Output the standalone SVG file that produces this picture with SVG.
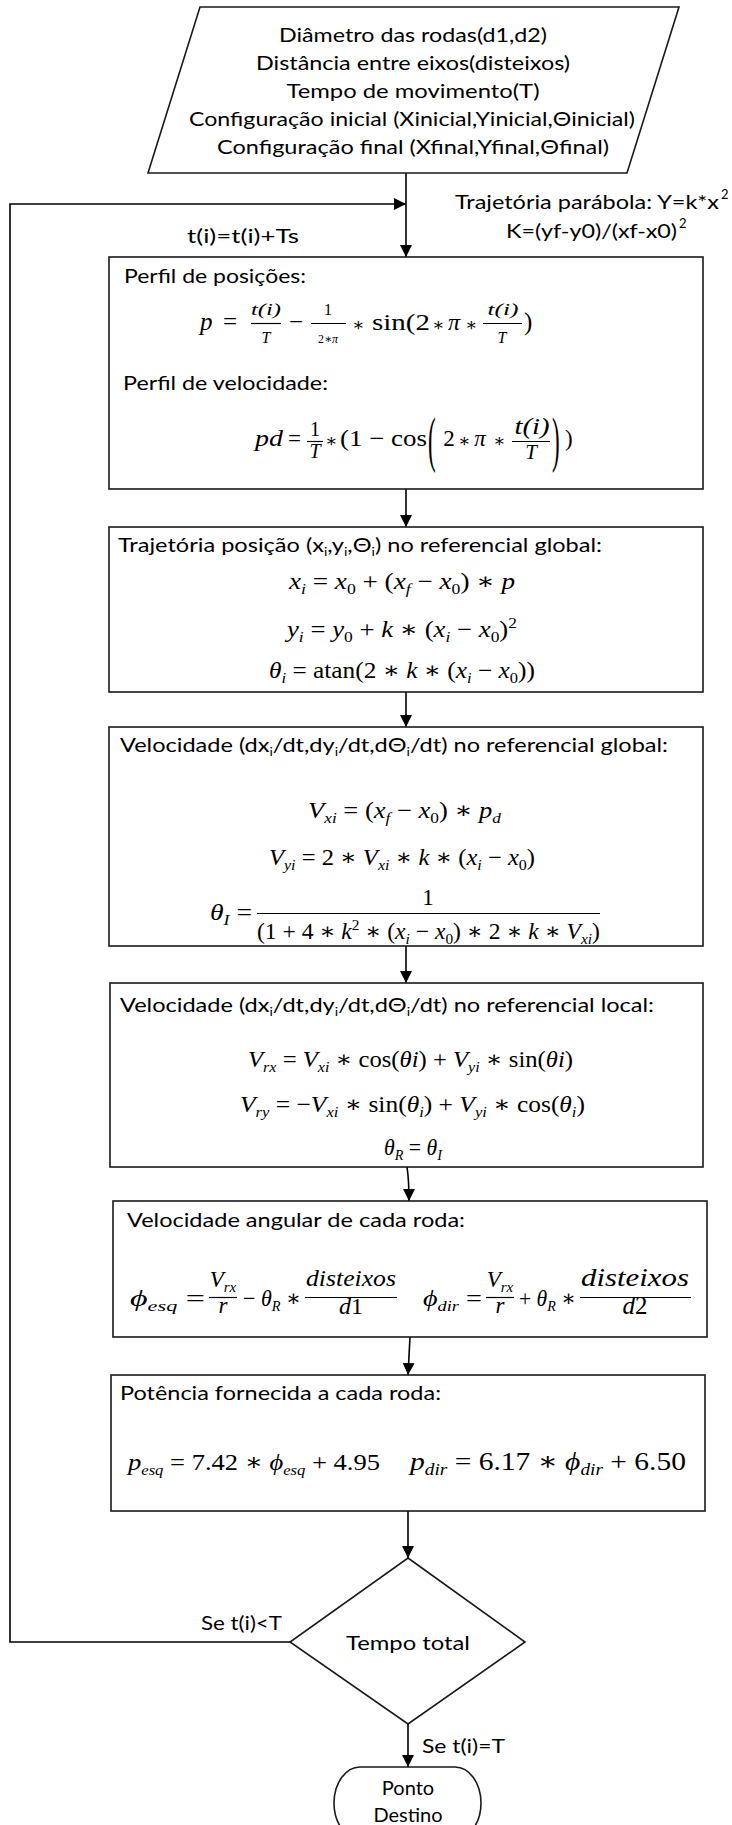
<svg xmlns="http://www.w3.org/2000/svg" width="732" height="1825" viewBox="0 0 732 1825">
<style>
.tx{font-family:Lato,"Liberation Sans",sans-serif;font-size:20px;fill:#000}
.m{font-family:"Liberation Serif","DejaVu Serif",serif;font-size:23px;fill:#000}
.mi{font-style:italic}
.ms{font-size:15px}
.mf{font-size:16px}
.mss{font-size:12px}
.ast{font-size:18px;text-anchor:middle}
.c{text-anchor:middle}
.box{fill:#fff;stroke:#1a1a1a;stroke-width:1.6}
.ln{fill:none;stroke:#000;stroke-width:1.6}
.fb{stroke:#000;stroke-width:1.2}
</style>
<defs>
<marker id="ah" viewBox="0 0 12 12" refX="12" refY="6" markerWidth="12" markerHeight="12" markerUnits="userSpaceOnUse" orient="auto"><path d="M0,0 L12,6 L0,12 z" fill="#000"/></marker>
</defs>

<g id="connectors">
<path class="ln" d="M406 173 V257" marker-end="url(#ah)"/>
<path class="ln" d="M290 1642 H10 V204 H406" marker-end="url(#ah)"/>
<path class="ln" d="M406 489 V527" marker-end="url(#ah)"/>
<path class="ln" d="M406 692 V727" marker-end="url(#ah)"/>
<path class="ln" d="M406 946 V983" marker-end="url(#ah)"/>
<path class="ln" d="M407 1167 Q409 1180 409 1201" marker-end="url(#ah)"/>
<path class="ln" d="M410 1337 L408 1375" marker-end="url(#ah)"/>
<path class="ln" d="M408 1511 V1558" marker-end="url(#ah)"/>
<path class="ln" d="M408 1724 V1767" marker-end="url(#ah)"/>
<text class="tx" x="455" y="209" textLength="264" lengthAdjust="spacingAndGlyphs">Trajetória parábola: Y=k*x</text>
<text class="tx" x="721" y="199" style="font-size:13px">2</text>
<text class="tx" x="506" y="238" textLength="171" lengthAdjust="spacingAndGlyphs">K=(yf-y0)/(xf-x0)</text>
<text class="tx" x="679" y="228" style="font-size:13px">2</text>
<text class="tx" x="187" y="243" textLength="112" lengthAdjust="spacingAndGlyphs">t(i)=t(i)+Ts</text>
<text class="tx" x="201" y="1630" textLength="81" lengthAdjust="spacingAndGlyphs">Se t(i)&lt;T</text>
<text class="tx" x="422" y="1753" textLength="83" lengthAdjust="spacingAndGlyphs">Se t(i)=T</text>
</g>

<g id="input">
<polygon class="box" points="200,7 679,7 627,173 148,173"/>
<text class="tx c" x="413" y="42" textLength="268" lengthAdjust="spacingAndGlyphs">Diâmetro das rodas(d1,d2)</text>
<text class="tx c" x="413" y="70" textLength="314" lengthAdjust="spacingAndGlyphs">Distância entre eixos(disteixos)</text>
<text class="tx c" x="413" y="98" textLength="253" lengthAdjust="spacingAndGlyphs">Tempo de movimento(T)</text>
<text class="tx c" x="412" y="126" textLength="446" lengthAdjust="spacingAndGlyphs">Configuração inicial (Xinicial,Yinicial,Θinicial)</text>
<text class="tx c" x="413" y="154" textLength="392" lengthAdjust="spacingAndGlyphs">Configuração final (Xfinal,Yfinal,Θfinal)</text>
</g>

<g id="perfil">
<rect class="box" x="109" y="257" width="594" height="232"/>
<text class="tx" x="124" y="283" textLength="182" lengthAdjust="spacingAndGlyphs">Perfil de posições:</text>
<text class="m mi" x="200" y="330" style="font-size:25px">p</text>
<text class="m" x="223" y="330" style="font-size:25px">=</text>
<text class="m mi mf c" x="266" y="315" textLength="30" lengthAdjust="spacingAndGlyphs">t(i)</text>
<line class="fb" x1="251" y1="323.5" x2="281" y2="323.5"/>
<text class="m mi mf c" x="266" y="343">T</text>
<text class="m" x="289" y="330" style="font-size:25px">−</text>
<text class="m mf c" x="328" y="315">1</text>
<line class="fb" x1="311" y1="323.5" x2="346" y2="323.5"/>
<text class="m mss c" x="328" y="343">2∗<tspan class="mi">π</tspan></text>
<text class="m ast" x="358" y="331">∗</text>
<text class="m" x="372" y="330" textLength="58" lengthAdjust="spacingAndGlyphs" style="font-size:24px">sin(2</text>
<text class="m ast" x="438" y="331">∗</text>
<text class="m mi c" x="454" y="330" style="font-size:24px">π</text>
<text class="m ast" x="471" y="331">∗</text>
<text class="m mi mf c" x="503" y="315" textLength="31" lengthAdjust="spacingAndGlyphs">t(i)</text>
<line class="fb" x1="483" y1="323.5" x2="522" y2="323.5"/>
<text class="m mi mf c" x="502" y="343">T</text>
<text class="m" x="524" y="330" style="font-size:25px">)</text>

<text class="tx" x="123" y="390" textLength="205" lengthAdjust="spacingAndGlyphs">Perfil de velocidade:</text>
<text class="m mi" x="255" y="446" textLength="28" lengthAdjust="spacingAndGlyphs">pd</text>
<text class="m" x="288" y="446">=</text>
<text class="m c" x="315" y="436" style="font-size:20px">1</text>
<line class="fb" x1="307" y1="441.5" x2="323" y2="441.5"/>
<text class="m mi c" x="315" y="458" style="font-size:20px">T</text>
<text class="m ast" x="331" y="447">∗</text>
<text class="m" x="340" y="446" textLength="87" lengthAdjust="spacingAndGlyphs">(1 − cos</text>
<text class="m" transform="translate(428,460) scale(1,2.7)">(</text>
<text class="m c" x="449" y="446">2</text>
<text class="m ast" x="464" y="447">∗</text>
<text class="m mi c" x="480" y="446">π</text>
<text class="m ast" x="499" y="447">∗</text>
<text class="m mi c" x="532" y="434" textLength="35" lengthAdjust="spacingAndGlyphs">t(i)</text>
<line class="fb" x1="512" y1="441.5" x2="550" y2="441.5"/>
<text class="m mi c" x="531" y="459" style="font-size:21px">T</text>
<text class="m" transform="translate(552,460) scale(1,2.7)">)</text>
<text class="m" x="565" y="446">)</text>
</g>

<g id="trajetoria">
<rect class="box" x="109" y="527" width="594" height="165"/>
<text class="tx" x="118" y="552" textLength="484" lengthAdjust="spacingAndGlyphs">Trajetória posição (x<tspan style="font-size:12px" dy="4">i</tspan><tspan dy="-4">,y</tspan><tspan style="font-size:12px" dy="4">i</tspan><tspan dy="-4">,Θ</tspan><tspan style="font-size:12px" dy="4">i</tspan><tspan dy="-4">) no referencial global:</tspan></text>
<text class="m" x="289" y="589" textLength="226" lengthAdjust="spacingAndGlyphs"><tspan class="mi">x</tspan><tspan class="ms mi" dy="5">i</tspan><tspan dy="-5"> = </tspan><tspan class="mi">x</tspan><tspan class="ms" dy="5">0</tspan><tspan dy="-5"> + (</tspan><tspan class="mi">x</tspan><tspan class="ms mi" dy="5">f</tspan><tspan dy="-5"> − </tspan><tspan class="mi">x</tspan><tspan class="ms" dy="5">0</tspan><tspan dy="-5">) ∗ </tspan><tspan class="mi">p</tspan></text>
<text class="m" x="287" y="637" textLength="230" lengthAdjust="spacingAndGlyphs"><tspan class="mi">y</tspan><tspan class="ms mi" dy="5">i</tspan><tspan dy="-5"> = </tspan><tspan class="mi">y</tspan><tspan class="ms" dy="5">0</tspan><tspan dy="-5"> + </tspan><tspan class="mi">k</tspan><tspan> ∗ (</tspan><tspan class="mi">x</tspan><tspan class="ms mi" dy="5">i</tspan><tspan dy="-5"> − </tspan><tspan class="mi">x</tspan><tspan class="ms" dy="5">0</tspan><tspan dy="-5">)</tspan><tspan class="ms" dy="-9">2</tspan></text>
<text class="m" x="269" y="678" textLength="266" lengthAdjust="spacingAndGlyphs"><tspan class="mi">θ</tspan><tspan class="ms mi" dy="5">i</tspan><tspan dy="-5"> = atan(2 ∗ </tspan><tspan class="mi">k</tspan><tspan> ∗ (</tspan><tspan class="mi">x</tspan><tspan class="ms mi" dy="5">i</tspan><tspan dy="-5"> − </tspan><tspan class="mi">x</tspan><tspan class="ms" dy="5">0</tspan><tspan dy="-5">))</tspan></text>
</g>

<g id="vel-global">
<rect class="box" x="109" y="727" width="594" height="219"/>
<text class="tx" x="120" y="752" textLength="548" lengthAdjust="spacingAndGlyphs">Velocidade (dx<tspan style="font-size:12px" dy="4">i</tspan><tspan dy="-4">/dt,dy</tspan><tspan style="font-size:12px" dy="4">i</tspan><tspan dy="-4">/dt,dΘ</tspan><tspan style="font-size:12px" dy="4">i</tspan><tspan dy="-4">/dt) no referencial global:</tspan></text>
<text class="m" x="308" y="818" textLength="193" lengthAdjust="spacingAndGlyphs"><tspan class="mi">V</tspan><tspan class="ms mi" dy="5">xi</tspan><tspan dy="-5"> = (</tspan><tspan class="mi">x</tspan><tspan class="ms mi" dy="5">f</tspan><tspan dy="-5"> − </tspan><tspan class="mi">x</tspan><tspan class="ms" dy="5">0</tspan><tspan dy="-5">) ∗ </tspan><tspan class="mi">p</tspan><tspan class="ms mi" dy="5">d</tspan></text>
<text class="m" x="269" y="865" textLength="266" lengthAdjust="spacingAndGlyphs"><tspan class="mi">V</tspan><tspan class="ms mi" dy="5">yi</tspan><tspan dy="-5"> = 2 ∗ </tspan><tspan class="mi">V</tspan><tspan class="ms mi" dy="5">xi</tspan><tspan dy="-5"> ∗ </tspan><tspan class="mi">k</tspan><tspan> ∗ (</tspan><tspan class="mi">x</tspan><tspan class="ms mi" dy="5">i</tspan><tspan dy="-5"> − </tspan><tspan class="mi">x</tspan><tspan class="ms" dy="5">0</tspan><tspan dy="-5">)</tspan></text>
<text class="m" x="210" y="920" textLength="42" lengthAdjust="spacingAndGlyphs"><tspan class="mi">θ</tspan><tspan class="ms mi" dy="5">I</tspan><tspan dy="-5"> =</tspan></text>
<text class="m c" x="428" y="905">1</text>
<line class="fb" x1="257" y1="913.5" x2="600" y2="913.5"/>
<text class="m" x="257" y="939" textLength="343" lengthAdjust="spacingAndGlyphs">(1 + 4 ∗ <tspan class="mi">k</tspan><tspan class="ms" dy="-9">2</tspan><tspan dy="9"> ∗ (</tspan><tspan class="mi">x</tspan><tspan class="ms mi" dy="5">i</tspan><tspan dy="-5"> − </tspan><tspan class="mi">x</tspan><tspan class="ms" dy="5">0</tspan><tspan dy="-5">) ∗ 2 ∗ </tspan><tspan class="mi">k</tspan><tspan> ∗ </tspan><tspan class="mi">V</tspan><tspan class="ms mi" dy="5">xi</tspan><tspan dy="-5">)</tspan></text>
</g>

<g id="vel-local">
<rect class="box" x="110" y="983" width="593" height="184"/>
<text class="tx" x="120" y="1012" textLength="534" lengthAdjust="spacingAndGlyphs">Velocidade (dx<tspan style="font-size:12px" dy="4">i</tspan><tspan dy="-4">/dt,dy</tspan><tspan style="font-size:12px" dy="4">i</tspan><tspan dy="-4">/dt,dΘ</tspan><tspan style="font-size:12px" dy="4">i</tspan><tspan dy="-4">/dt) no referencial local:</tspan></text>
<text class="m" x="248" y="1067" textLength="325" lengthAdjust="spacingAndGlyphs"><tspan class="mi">V</tspan><tspan class="ms mi" dy="5">rx</tspan><tspan dy="-5"> = </tspan><tspan class="mi">V</tspan><tspan class="ms mi" dy="5">xi</tspan><tspan dy="-5"> ∗ cos(</tspan><tspan class="mi">θi</tspan><tspan>) + </tspan><tspan class="mi">V</tspan><tspan class="ms mi" dy="5">yi</tspan><tspan dy="-5"> ∗ sin(</tspan><tspan class="mi">θi</tspan><tspan>)</tspan></text>
<text class="m" x="240" y="1112" textLength="345" lengthAdjust="spacingAndGlyphs"><tspan class="mi">V</tspan><tspan class="ms mi" dy="5">ry</tspan><tspan dy="-5"> = −</tspan><tspan class="mi">V</tspan><tspan class="ms mi" dy="5">xi</tspan><tspan dy="-5"> ∗ sin(</tspan><tspan class="mi">θ</tspan><tspan class="ms mi" dy="5">i</tspan><tspan dy="-5">) + </tspan><tspan class="mi">V</tspan><tspan class="ms mi" dy="5">yi</tspan><tspan dy="-5"> ∗ cos(</tspan><tspan class="mi">θ</tspan><tspan class="ms mi" dy="5">i</tspan><tspan dy="-5">)</tspan></text>
<text class="m" x="384" y="1155" textLength="58" lengthAdjust="spacingAndGlyphs"><tspan class="mi">θ</tspan><tspan class="ms mi" dy="5">R</tspan><tspan dy="-5"> = </tspan><tspan class="mi">θ</tspan><tspan class="ms mi" dy="5">I</tspan></text>
</g>

<g id="vel-angular">
<rect class="box" x="113" y="1201" width="594" height="136"/>
<text class="tx" x="127" y="1227" textLength="338" lengthAdjust="spacingAndGlyphs">Velocidade angular de cada roda:</text>
<text class="m" x="130" y="1306" textLength="75" lengthAdjust="spacingAndGlyphs"><tspan class="mi">ϕ</tspan><tspan class="ms mi" dy="5">esq</tspan><tspan dy="-5"> =</tspan></text>
<text class="m c" x="223" y="1287"><tspan class="mi">V</tspan><tspan class="ms mi" dy="5">rx</tspan></text>
<line class="fb" x1="209" y1="1297.5" x2="237" y2="1297.5"/>
<text class="m mi c" x="223" y="1313">r</text>
<text class="m" x="243" y="1306" textLength="58" lengthAdjust="spacingAndGlyphs">− <tspan class="mi">θ</tspan><tspan class="ms mi" dy="5">R</tspan><tspan dy="-5"> ∗</tspan></text>
<text class="m mi c" x="351" y="1286" textLength="90" lengthAdjust="spacingAndGlyphs" style="font-size:24px">disteixos</text>
<line class="fb" x1="305" y1="1297.5" x2="397" y2="1297.5"/>
<text class="m c" x="351" y="1314" style="font-size:24px"><tspan class="mi">d</tspan>1</text>
<text class="m" x="423" y="1306" textLength="59" lengthAdjust="spacingAndGlyphs"><tspan class="mi">ϕ</tspan><tspan class="ms mi" dy="5">dir</tspan><tspan dy="-5"> =</tspan></text>
<text class="m c" x="500" y="1287"><tspan class="mi">V</tspan><tspan class="ms mi" dy="5">rx</tspan></text>
<line class="fb" x1="486" y1="1297.5" x2="514" y2="1297.5"/>
<text class="m mi c" x="500" y="1313">r</text>
<text class="m" x="519" y="1306" textLength="57" lengthAdjust="spacingAndGlyphs">+ <tspan class="mi">θ</tspan><tspan class="ms mi" dy="5">R</tspan><tspan dy="-5"> ∗</tspan></text>
<text class="m mi c" x="635" y="1286" textLength="108" lengthAdjust="spacingAndGlyphs" style="font-size:26px">disteixos</text>
<line class="fb" x1="580" y1="1297.5" x2="691" y2="1297.5"/>
<text class="m c" x="635" y="1314" style="font-size:25px"><tspan class="mi">d</tspan>2</text>
</g>

<g id="potencia">
<rect class="box" x="111" y="1375" width="594" height="136"/>
<text class="tx" x="120" y="1400" textLength="321" lengthAdjust="spacingAndGlyphs">Potência fornecida a cada roda:</text>
<text class="m" x="128" y="1470" textLength="252" lengthAdjust="spacingAndGlyphs" style="font-size:24px"><tspan class="mi">p</tspan><tspan class="ms mi" dy="5">esq</tspan><tspan dy="-5"> = 7.42 ∗ </tspan><tspan class="mi">ϕ</tspan><tspan class="ms mi" dy="5">esq</tspan><tspan dy="-5"> + 4.95</tspan></text>
<text class="m" x="410" y="1470" textLength="276" lengthAdjust="spacingAndGlyphs" style="font-size:26px"><tspan class="mi">p</tspan><tspan class="mi" style="font-size:17px" dy="5">dir</tspan><tspan dy="-5"> = 6.17 ∗ </tspan><tspan class="mi">ϕ</tspan><tspan class="mi" style="font-size:17px" dy="5">dir</tspan><tspan dy="-5"> + 6.50</tspan></text>
</g>

<g id="decisao">
<polygon class="box" points="408,1558 525,1642 408,1724 290,1642"/>
<text class="tx c" x="408" y="1650" textLength="124" lengthAdjust="spacingAndGlyphs">Tempo total</text>
</g>

<g id="destino">
<path class="box" d="M360 1767 H455 A26 36 0 0 1 455 1839 H360 A26 36 0 0 1 360 1767 Z"/>
<text class="tx c" x="408" y="1795">Ponto</text>
<text class="tx c" x="408" y="1822">Destino</text>
</g>
</svg>
